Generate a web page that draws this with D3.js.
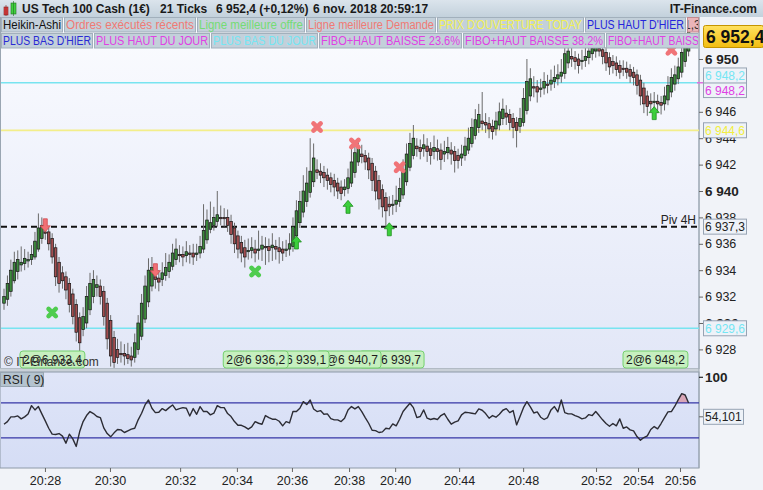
<!DOCTYPE html>
<html><head><meta charset="utf-8">
<script src="https://cdn.jsdelivr.net/npm/d3@7"></script>
<style>body{margin:0;background:#fff;}svg{display:block;font-family:"Liberation Sans",Arial,sans-serif;}</style>
</head><body><svg id="c" width="763" height="490"></svg>
<script>
// ---------- DATA ----------
const haOpen=[6931.5,6931.8,6932.4,6933.2,6933.9,6934.4,6934.5,6934.7,6934.8,6935.0,
6935.6,6936.4,6936.9,6936.9,6936.4,6935.7,6934.6,6933.8,6933.5,6933.0,
6932.2,6931.4,6930.4,6929.5,6930.0,6931.0,6932.0,6932.7,6932.8,6932.4,
6931.5,6930.2,6928.9,6928.0,6927.7,6927.7,6927.6,6927.5,6927.4,6928.0,
6929.0,6930.3,6931.6,6932.8,6933.5,6933.4,6933.3,6933.6,6933.9,6934.3,
6934.8,6935.2,6935.2,6935.1,6935.3,6935.3,6935.2,6935.3,6935.6,6936.3,
6937.1,6937.4,6937.7,6938.0,6938.0,6938.0,6937.7,6937.2,6936.6,6936.1,
6935.7,6935.4,6935.5,6935.6,6935.5,6935.6,6935.8,6935.8,6935.7,6935.8,
6935.7,6935.6,6935.5,6935.6,6935.8,6936.6,6937.6,6938.4,6939.2,6939.9,
6940.7,6941.6,6941.5,6941.4,6941.2,6941.0,6940.8,6940.6,6940.3,6940.1,
6940.2,6940.6,6941.4,6942.2,6942.8,6942.7,6942.5,6942.1,6941.5,6940.8,
6940.1,6939.5,6939.0,6938.9,6939.0,6939.2,6939.7,6940.7,6941.8,6942.7,
6943.4,6943.3,6943.2,6943.4,6943.2,6943.0,6943.2,6943.1,6942.8,6942.9,
6943.1,6943.0,6942.7,6942.5,6942.7,6943.1,6943.6,6944.2,6944.8,6945.3,
6945.2,6945.1,6944.9,6944.7,6945.0,6945.5,6945.9,6945.8,6945.5,6945.2,
6944.9,6945.2,6946.1,6947.2,6947.9,6947.9,6947.7,6947.8,6948.1,6948.1,
6948.3,6948.5,6948.7,6948.9,6949.7,6950.2,6950.1,6950.0,6949.8,6949.9,
6950.1,6950.4,6950.6,6950.8,6950.7,6950.5,6950.1,6949.8,6949.7,6949.5,
6949.3,6949.3,6949.2,6949.0,6948.8,6948.4,6947.8,6947.2,6946.8,6946.7,
6946.8,6946.7,6946.6,6946.9,6947.5,6948.1,6948.5,6949.0,6949.8,6950.6];
const haClose=[6932.0,6933.0,6934.0,6934.6,6934.8,6934.6,6934.9,6934.8,6935.2,6936.2,
6937.2,6937.4,6936.8,6936.0,6935.0,6933.5,6933.0,6933.2,6932.5,6931.4,
6930.5,6929.3,6928.5,6930.5,6932.0,6933.0,6933.3,6932.9,6932.0,6930.5,
6928.8,6927.5,6927.0,6927.4,6927.6,6927.5,6927.3,6927.2,6928.5,6930.0,
6931.5,6932.8,6934.0,6934.2,6933.3,6933.1,6933.8,6934.2,6934.6,6935.3,
6935.6,6935.1,6935.0,6935.4,6935.2,6935.0,6935.3,6935.8,6937.0,6937.8,
6937.6,6938.0,6938.2,6937.9,6937.9,6937.4,6936.7,6936.0,6935.6,6935.3,
6935.0,6935.5,6935.7,6935.3,6935.6,6935.9,6935.7,6935.5,6935.9,6935.6,
6935.4,6935.3,6935.6,6936.0,6937.3,6938.5,6939.2,6940.0,6940.6,6941.5,
6942.5,6941.4,6941.2,6941.0,6940.8,6940.5,6940.3,6940.0,6939.8,6940.3,
6941.0,6942.2,6942.9,6943.3,6942.6,6942.2,6941.6,6940.8,6940.0,6939.4,
6938.8,6938.5,6938.8,6939.0,6939.3,6940.2,6941.6,6942.8,6943.6,6944.0,
6943.2,6943.0,6943.5,6943.0,6942.7,6943.3,6943.0,6942.4,6943.0,6943.3,
6942.8,6942.3,6942.3,6942.8,6943.4,6944.0,6944.8,6945.4,6945.8,6945.1,
6945.0,6944.7,6944.5,6945.3,6946.0,6946.2,6945.6,6945.2,6944.8,6944.6,
6945.5,6947.0,6948.3,6948.5,6947.8,6947.5,6947.8,6948.3,6948.0,6948.4,
6948.6,6948.8,6949.0,6950.4,6950.6,6950.0,6949.8,6949.5,6949.9,6950.2,
6950.6,6950.8,6951.0,6950.6,6950.2,6949.7,6949.4,6949.5,6949.2,6949.0,
6949.2,6949.0,6948.7,6948.6,6948.0,6947.2,6946.6,6946.4,6946.6,6946.8,
6946.6,6946.5,6947.2,6948.0,6948.6,6948.8,6949.4,6950.5,6951.4,6952.4];
const haHigh=[6932.6,6933.6,6934.8,6935.4,6935.5,6935.8,6935.6,6935.4,6935.9,6936.9,
6938.3,6938.0,6937.5,6937.3,6936.8,6936.0,6935.0,6934.3,6933.9,6933.4,
6932.6,6931.8,6930.8,6931.2,6932.8,6933.8,6934.0,6933.6,6933.3,6932.8,
6931.9,6930.6,6929.4,6928.8,6928.6,6928.4,6928.5,6928.2,6929.2,6930.6,
6932.2,6933.6,6934.9,6935.0,6934.2,6934.0,6934.6,6935.3,6935.2,6936.0,
6936.4,6935.9,6935.8,6936.2,6935.9,6936.0,6936.0,6936.6,6939.0,6938.6,
6939.2,6938.8,6940.0,6938.9,6938.7,6938.6,6938.2,6937.6,6937.0,6936.6,
6936.3,6936.4,6936.5,6936.3,6937.0,6936.6,6936.5,6936.4,6936.8,6936.3,
6936.5,6936.2,6936.3,6936.8,6938.0,6939.3,6940.0,6941.2,6941.8,6944.0,
6943.6,6942.4,6942.1,6941.9,6941.7,6941.4,6941.3,6941.0,6940.8,6940.9,
6941.7,6943.5,6943.8,6944.0,6943.5,6943.1,6942.9,6942.5,6941.9,6941.2,
6940.5,6939.9,6939.6,6939.7,6940.4,6941.0,6942.4,6943.6,6944.4,6945.0,
6944.0,6943.9,6944.3,6944.0,6943.7,6944.2,6943.9,6943.6,6943.8,6944.1,
6943.7,6943.4,6943.2,6943.5,6944.1,6944.8,6945.5,6946.2,6946.6,6947.5,
6945.9,6945.6,6945.4,6946.0,6946.7,6947.0,6946.5,6946.2,6945.9,6945.6,
6946.3,6947.8,6950.0,6949.3,6948.7,6948.4,6948.5,6949.0,6948.8,6949.2,
6949.5,6949.6,6950.0,6951.0,6951.3,6950.9,6950.6,6950.4,6950.7,6950.9,
6951.2,6951.4,6951.6,6951.3,6951.1,6950.9,6950.5,6950.3,6950.2,6949.9,
6949.9,6949.8,6949.6,6949.4,6949.2,6948.8,6948.2,6947.6,6947.4,6947.5,
6947.3,6947.2,6947.9,6948.7,6949.3,6949.5,6950.1,6951.2,6952.0,6952.9];
const haLow=[6931.0,6931.3,6932.0,6933.0,6933.3,6933.9,6934.0,6934.2,6934.4,6934.8,
6935.4,6936.0,6936.3,6935.5,6934.5,6932.8,6932.3,6932.6,6931.8,6930.8,
6929.9,6928.6,6927.8,6929.0,6929.6,6930.6,6931.5,6932.0,6931.4,6929.8,
6928.0,6926.7,6926.6,6926.9,6927.0,6926.8,6926.9,6926.7,6927.0,6927.6,
6928.7,6930.0,6931.2,6932.4,6932.6,6932.4,6932.8,6933.2,6933.4,6934.0,
6934.4,6934.6,6934.3,6934.6,6934.5,6934.4,6934.7,6934.9,6935.3,6936.0,
6936.8,6937.0,6937.3,6937.4,6937.3,6936.9,6936.0,6935.3,6934.9,6934.6,
6934.2,6934.8,6934.9,6934.6,6934.8,6934.7,6934.4,6934.6,6934.7,6934.8,
6934.5,6934.7,6935.0,6935.1,6935.4,6936.2,6937.2,6938.0,6938.8,6939.5,
6940.3,6940.9,6940.6,6940.3,6940.1,6939.9,6939.6,6939.4,6939.3,6939.6,
6939.8,6940.3,6941.0,6941.9,6942.1,6941.6,6940.9,6940.0,6939.3,6938.6,
6938.0,6937.3,6938.1,6938.2,6938.4,6938.8,6939.4,6940.4,6941.5,6942.4,
6942.6,6942.4,6942.6,6942.2,6942.0,6942.4,6942.3,6941.6,6942.2,6942.4,
6942.0,6941.4,6941.7,6941.9,6942.3,6942.8,6943.3,6943.9,6944.4,6944.6,
6944.4,6944.0,6943.9,6944.2,6944.6,6945.0,6945.0,6944.6,6944.0,6943.3,
6944.4,6944.9,6945.8,6946.8,6947.1,6946.7,6947.1,6947.3,6947.4,6947.6,
6947.8,6948.0,6948.2,6948.5,6949.3,6949.4,6949.2,6948.9,6949.2,6949.4,
6949.6,6949.9,6950.1,6950.2,6949.6,6949.1,6948.8,6948.9,6948.7,6948.5,
6948.7,6948.5,6948.2,6948.0,6947.3,6946.5,6945.9,6945.7,6946.0,6946.1,
6945.9,6945.8,6946.1,6946.5,6947.1,6947.6,6948.1,6948.6,6949.4,6950.2];
const rsi=[45.6,48.6,54.0,54.0,55.1,51.7,54.0,57.4,66.9,62.0,
65.8,57.4,49.4,41.0,34.2,33.8,34.9,31.9,23.9,34.2,
28.8,20.1,37.2,48.6,55.5,60.1,57.8,54.4,53.2,41.4,
34.9,31.1,35.7,39.5,39.1,36.1,38.0,39.9,41.0,50.6,
58.2,67.7,73.4,63.9,58.9,59.3,63.5,61.2,64.6,67.7,
62.0,63.5,64.6,63.9,55.1,63.5,57.0,65.8,60.1,60.1,
56.3,58.2,66.9,64.6,64.6,57.8,54.4,48.6,44.4,44.4,
42.5,39.9,42.5,48.6,46.7,45.6,55.5,53.2,51.3,51.3,
49.0,43.7,48.6,47.1,60.1,60.1,63.9,71.5,68.1,73.4,
63.1,60.1,61.2,57.0,57.4,52.1,50.6,50.6,48.6,52.5,
62.0,65.8,63.1,65.8,60.1,53.2,46.7,38.7,38.3,36.1,
36.8,41.0,40.3,46.0,43.7,51.3,60.1,65.0,69.6,64.6,
53.2,54.4,62.0,52.5,51.0,52.1,51.0,55.5,57.8,51.3,
45.6,47.9,49.4,56.3,59.3,58.9,58.2,57.4,63.1,61.6,
57.8,52.5,55.5,53.6,57.0,61.6,63.5,58.9,61.2,44.8,
54.4,64.6,71.5,65.4,58.5,59.7,53.6,51.0,53.2,62.0,
65.8,59.7,73.4,58.9,57.4,57.4,55.5,53.9,51.7,52.8,
56.6,55.5,60.1,55.5,50.6,46.4,43.3,46.4,43.7,51.7,
41.0,42.5,39.1,38.0,31.5,27.3,30.3,32.2,39.5,42.9,
40.3,46.4,53.2,59.7,60.1,66.2,73.8,80.6,79.1,70.0];
const rsiUpper=70, rsiLower=30, rsiLast="54,101", rsiLastValue=54.101;
const timeTickIdx=[11.9,30.8,51.2,67.7,83.7,100.3,113.7,132.3,150.9,172.1,184.3,196.5];
const timeTickLabels=["20:28","20:30","20:32","20:34","20:36","20:38","20:40","20:44","20:48","20:52","20:54","20:56"];
const priceTicks=[6928,6930,6932,6934,6936,6938,6940,6942,6944,6946,6950];
const levelNames=["PLUS HAUT DU JOUR","PLUS BAS DU JOUR","PRIX D'OUVERTURE TODAY","Piv 4H","PLUS BAS DU JOUR 2"];
const levelValues=[6948.2,6948.2,6944.6,6937.3,6929.6];
const levelLabels=["6 948,2","6 948,2","6 944,6","6 937,3","6 929,6"];
const signalIdx=[12,14,44,73,85,91,100,102,112,115,189,194];
const signalPrice=[6937.4,6930.8,6934.0,6933.9,6936.1,6944.85,6938.8,6943.6,6937.1,6941.8,6945.9,6950.7];
const signalKind=["sellArrow","buyCross","sellArrow","buyCross","buyArrow","sellCross","buyArrow","sellCross","buyArrow","sellCross","buyArrow","sellCross"];
const tradeIdx=[23.5,82.6,94.5,109.6,122.1,198.8];
const tradeLabels=["2@6 933,4","2@6 936,2","2@6 939,1","2@6 940,7","2@6 939,7","2@6 948,2"];
const legendRow1=["Heikin-Ashi","Ordres exécutés récents","Ligne meilleure offre","Ligne meilleure Demande","PRIX D'OUVERTURE TODAY","PLUS HAUT D'HIER"];
const legendRow2=["PLUS BAS D'HIER","PLUS HAUT DU JOUR","PLUS BAS DU JOUR","FIBO+HAUT BAISSE 23.6%","FIBO+HAUT BAISSE 38.2%","FIBO+HAUT BAISSE 50%"];
const lastPrice="6 952,4";
const titleParts=["US Tech 100 Cash (1€)","21 Ticks","6 952,4 (+0,12%)","6 nov. 2018 20:59:17"];

// ---------- LAYOUT / STYLE ----------
const svg=d3.select("#c");
const defs=svg.append("defs");
const plotR=699, plotT=17, plotB=368.5, rsiT=372, rsiB=468;
const N=haClose.length;
const x=d3.scaleLinear().domain([0,N-1]).range([4,688.6]);
const y=d3.scaleLinear().domain([6928,6950]).range([349.4,59]);
const yR=d3.scaleLinear().domain([0,100]).range([464,376.75]);
const loc=d3.formatLocale({decimal:",",thousands:" ",grouping:[3],currency:["","€"]});
const fmt=loc.format(",.0f");

function lg(id,stops){const g=defs.append("linearGradient").attr("id",id).attr("x1",0).attr("y1",0).attr("x2",0).attr("y2",1);
 stops.forEach((c,i)=>g.append("stop").attr("offset",i/(stops.length-1)).attr("stop-color",c));}
lg("gPlot",["#fbfcff","#eef1fb","#e2e7f7"]);
lg("gTitle",["#dbe4ec","#c3d1dc"]);
lg("gYel",["#ffe160","#f2bd10"]);
lg("gRsi",["#dfe5f8","#d5ddf5"]);
defs.append("clipPath").attr("id","cpPlot").append("rect").attr("x",1).attr("y",plotT).attr("width",plotR-1).attr("height",plotB-plotT);
defs.append("clipPath").attr("id","cpRsi").append("rect").attr("x",1).attr("y",rsiT).attr("width",plotR-1).attr("height",rsiB-rsiT);
defs.append("clipPath").attr("id","cpAbove").append("rect").attr("x",0).attr("y",rsiT).attr("width",plotR).attr("height",yR(rsiUpper)-rsiT);
defs.append("clipPath").attr("id","cpLeg").append("rect").attr("x",0).attr("y",0).attr("width",698).attr("height",60);
defs.append("clipPath").attr("id","cpPink").append("rect").attr("x",688).attr("y",17).attr("width",10).attr("height",15);

// backgrounds
svg.append("rect").attr("width",763).attr("height",490).attr("fill","#f1f3f8");
svg.append("rect").attr("x",0).attr("y",plotT).attr("width",plotR).attr("height",plotB-plotT).attr("fill","url(#gPlot)");
svg.append("rect").attr("x",0.5).attr("y",plotT).attr("width",plotR-0.5).attr("height",plotB-plotT).attr("fill","none").attr("stroke","#9aa6b2");
svg.append("rect").attr("x",0).attr("y",plotB).attr("width",plotR).attr("height",rsiT-plotB).attr("fill","#c9d0d8");
svg.append("rect").attr("x",0).attr("y",rsiT).attr("width",plotR).attr("height",rsiB-rsiT).attr("fill","url(#gRsi)").attr("stroke","#8e9aa8");
svg.append("line").attr("x1",plotR).attr("x2",plotR).attr("y1",plotT).attr("y2",rsiB).attr("stroke","#9aa6b2");

// level lines
const lvlStyle={"PLUS HAUT DU JOUR":null,"PLUS BAS DU JOUR":{c:"#78e4f0",w:1.6},"PRIX D'OUVERTURE TODAY":{c:"#f3ee8a",w:1.8},"Piv 4H":{c:"#111",w:2,d:"6,4"},"PLUS BAS DU JOUR 2":{c:"#78e4f0",w:1.6}};
const gP=svg.append("g").attr("clip-path","url(#cpPlot)");
levelNames.forEach((n,i)=>{const s=lvlStyle[n]; if(!s) return;
 gP.append("line").attr("x1",1).attr("x2",plotR).attr("y1",y(levelValues[i])).attr("y2",y(levelValues[i]))
  .attr("stroke",s.c).attr("stroke-width",s.w).attr("stroke-dasharray",s.d||null);});

// candles
const idx=d3.range(N);
gP.selectAll("line.w").data(idx).join("line").attr("class","w")
 .attr("x1",i=>x(i)).attr("x2",i=>x(i)).attr("y1",i=>y(haHigh[i])).attr("y2",i=>y(haLow[i]))
 .attr("stroke","#6a6a6a").attr("stroke-width",1);
gP.selectAll("rect.b").data(idx).join("rect").attr("class","b")
 .attr("x",i=>x(i)-1.3).attr("width",2.6)
 .attr("y",i=>y(Math.max(haOpen[i],haClose[i])))
 .attr("height",i=>Math.max(0.8,Math.abs(y(haOpen[i])-y(haClose[i]))))
 .attr("fill",i=>haClose[i]>=haOpen[i]?"#3d8a3d":"#a24e50")
 .attr("stroke","#141414").attr("stroke-width",0.7);

// signals
const sg=gP.append("g");
signalIdx.forEach((bi,k)=>{const kind=signalKind[k];
 const g=sg.append("g").attr("transform",`translate(${x(bi)},${y(signalPrice[k])})`);
 if(kind.endsWith("Arrow")){
  const up=kind==="buyArrow";
  g.append("path").attr("d","M0,-6.5L5,-0.5L2,-0.5L2,6.5L-2,6.5L-2,-0.5L-5,-0.5Z")
   .attr("transform",up?null:"scale(1,-1)")
   .attr("fill",up?"#3ccf3c":"#f27074").attr("stroke",up?"#1f8f1f":"#d04a50").attr("stroke-width",0.8);
 } else {
  const c=kind==="buyCross"?"#4fcc4f":"#f07478";
  g.append("path").attr("d","M-3.6,-3.6L3.6,3.6M-3.6,3.6L3.6,-3.6").attr("stroke",c).attr("stroke-width",4.6).attr("stroke-linecap","round");
 }
});

// trade labels (later drawn first)
const tg=svg.append("g").attr("font-size",12);
for(let k=tradeIdx.length-1;k>=0;k--){
 const g=tg.append("g");
 const r=g.append("rect").attr("y",351).attr("height",17).attr("rx",3).attr("fill","#c6efbf").attr("stroke","#74d06e");
 const t=g.append("text").attr("y",364).attr("fill","#1c1c1c").text(tradeLabels[k]);
 const w=t.node().getComputedTextLength()+6, xr=x(tradeIdx[k]);
 r.attr("x",xr-w).attr("width",w); t.attr("x",xr-w+3);
}
svg.append("text").attr("x",4).attr("y",366).attr("font-size",12).attr("fill","#333").text("© IT-Finance.com");

// legend rows
const legCol={"Heikin-Ashi":"#111","Ordres exécutés récents":"#f07a74","Ligne meilleure offre":"#74dc74","Ligne meilleure Demande":"#f07a74",
 "PRIX D'OUVERTURE TODAY":"#f2f050","PLUS HAUT D'HIER":"#2424dc","PLUS BAS D'HIER":"#2a2ad4","PLUS HAUT DU JOUR":"#e040e4",
 "PLUS BAS DU JOUR":"#74e6f4","FIBO+HAUT BAISSE 23.6%":"#e040e4","FIBO+HAUT BAISSE 38.2%":"#e040e4","FIBO+HAUT BAISSE 50%":"#e040e4"};
const row1Box=[[1,61],[64,131],[197,107],[306,129],[437,146],[585,100]];
const row2Box=[[1,91],[94,115],[211,106],[319,142],[463,141],[606,124]];
const lgG=svg.append("g").attr("clip-path","url(#cpLeg)").attr("font-size",12);
function legRow(names,boxes,y0){names.forEach((n,i)=>{const [bx,bw]=boxes[i];
 lgG.append("rect").attr("x",bx+0.5).attr("y",y0+0.5).attr("width",bw).attr("height",14.5).attr("fill","#c3d0da").attr("stroke","#a2b0bc");
 lgG.append("text").attr("x",bx+2).attr("y",y0+12).attr("fill",legCol[n]).attr("textLength",bw-3).attr("lengthAdjust","spacingAndGlyphs").text(n);});}
legRow(legendRow1,row1Box,17);
legRow(legendRow2,row2Box,33);
svg.append("rect").attr("x",687.5).attr("y",17.5).attr("width",11).attr("height",14.5).attr("fill","#eab4b8").attr("stroke","#c08a90");
svg.append("text").attr("clip-path","url(#cpPink)").attr("x",684).attr("y",29).attr("font-size",12).attr("fill","#333").text("1,3");

// title bar
svg.append("rect").attr("x",0).attr("y",0).attr("width",763).attr("height",17).attr("fill","url(#gTitle)");
svg.append("rect").attr("x",4).attr("y",7).attr("width",4).attr("height",8).attr("fill","#e04040").attr("stroke","#802020").attr("stroke-width",0.6);
svg.append("line").attr("x1",6).attr("x2",6).attr("y1",5).attr("y2",16).attr("stroke","#802020").attr("stroke-width",0.6);
svg.append("rect").attr("x",11).attr("y",3).attr("width",5).attr("height",11).attr("fill","#40d040").attr("stroke","#207020").attr("stroke-width",0.6);
svg.append("line").attr("x1",13.5).attr("x2",13.5).attr("y1",1).attr("y2",16).attr("stroke","#207020").attr("stroke-width",0.6);
const titleX=[22,160,216,313];
titleParts.forEach((t,i)=>svg.append("text").attr("x",titleX[i]).attr("y",13).attr("font-size",12).attr("font-weight","bold").attr("fill","#1a1a1a").text(t));
svg.append("text").attr("x",757).attr("y",13).attr("text-anchor","end").attr("font-size",12).attr("font-weight","bold").attr("fill","#1a1a1a").text("IT-Finance.com");

// price axis
const ax=svg.append("g").attr("transform",`translate(${plotR},0)`)
 .call(d3.axisRight(y).tickValues(priceTicks).tickFormat(fmt).tickSize(4).tickPadding(2));
ax.select(".domain").remove();
ax.selectAll("line").attr("stroke","#666");
ax.selectAll("text").attr("font-family","Liberation Sans, Arial, sans-serif").attr("fill","#222")
 .attr("font-weight",d=>d%10===0?"bold":"normal").attr("font-size",d=>d%10===0?13.5:12.5);

// level boxes
const boxTxt={"PLUS HAUT DU JOUR":"#e040e4","PLUS BAS DU JOUR":"#74e6f4","PRIX D'OUVERTURE TODAY":"#f2ee40","Piv 4H":"#222","PLUS BAS DU JOUR 2":"#74e6f4"};
levelNames.forEach((n,i)=>{
 let cy=y(levelValues[i]); if(n==="PLUS BAS DU JOUR") cy-=7.3; if(n==="PLUS HAUT DU JOUR") cy+=7.3;
 svg.append("rect").attr("x",703.5).attr("y",cy-7.5).attr("width",43).attr("height",15).attr("fill","#eef2f8").attr("stroke","#97a3b3");
 svg.append("text").attr("x",705).attr("y",cy+4.5).attr("font-size",12).attr("fill",boxTxt[n]).text(levelLabels[i]);
});
svg.append("line").attr("x1",697).attr("x2",703).attr("y1",y(6948.2)).attr("y2",y(6948.2)).attr("stroke","#e070e0").attr("stroke-width",1.5);
svg.append("text").attr("x",696).attr("y",y(6937.3)-3).attr("text-anchor","end").attr("font-size",12).attr("fill","#222").text("Piv 4H");
// last price box
svg.append("rect").attr("x",703.5).attr("y",25.5).attr("width",60).attr("height",22).attr("rx",2).attr("fill","url(#gYel)").attr("stroke","#c49400");
svg.append("text").attr("x",706).attr("y",43).attr("font-size",17.5).attr("font-weight","bold").attr("fill","#111").text(lastPrice);

// RSI
const gR=svg.append("g").attr("clip-path","url(#cpRsi)");
gR.append("path").datum(rsi).attr("clip-path","url(#cpAbove)")
 .attr("d",d3.area().x((d,i)=>x(i)).y0(yR(rsiUpper)).y1(d=>yR(d)))
 .attr("fill","#d9a6b8");
[rsiUpper,rsiLower].forEach(v=>gR.append("line").attr("x1",0).attr("x2",plotR).attr("y1",yR(v)).attr("y2",yR(v)).attr("stroke","#3636a6").attr("stroke-width",1.3));
gR.append("path").datum(rsi).attr("d",d3.line().x((d,i)=>x(i)).y(d=>yR(d)))
 .attr("fill","none").attr("stroke","#2c2c34").attr("stroke-width",1.4).attr("stroke-linejoin","round");
svg.append("rect").attr("x",0.5).attr("y",372.5).attr("width",43).attr("height",14).attr("fill","#b4c3cf").attr("stroke","#98a6b2");
svg.append("text").attr("x",3).attr("y",384).attr("font-size",12).attr("fill","#222").text("RSI ( 9)");
const ar=svg.append("g").attr("transform",`translate(${plotR},0)`).call(d3.axisRight(yR).tickValues([100]).tickSize(4).tickPadding(2));
ar.select(".domain").remove();
ar.selectAll("text").attr("font-size",13.5).attr("font-weight","bold").attr("fill","#222").attr("font-family","Liberation Sans, Arial, sans-serif");
svg.append("line").attr("x1",699).attr("x2",703).attr("y1",yR(rsiLastValue)).attr("y2",yR(rsiLastValue)).attr("stroke","#666");
svg.append("rect").attr("x",703.5).attr("y",yR(rsiLastValue)-7.5).attr("width",40).attr("height",15).attr("fill","#eef2f8").attr("stroke","#97a3b3");
svg.append("text").attr("x",705).attr("y",yR(rsiLastValue)+4.5).attr("font-size",12).attr("fill","#222").text(rsiLast);

// time axis
const at=svg.append("g").attr("transform",`translate(0,${rsiB})`)
 .call(d3.axisBottom(x).tickValues(timeTickIdx).tickFormat((d,i)=>timeTickLabels[i]).tickSize(4).tickPadding(4));
at.select(".domain").remove();
at.selectAll("line").attr("stroke","#666");
at.selectAll("text").attr("font-size",12.5).attr("fill","#222").attr("font-family","Liberation Sans, Arial, sans-serif");
</script></body></html>
